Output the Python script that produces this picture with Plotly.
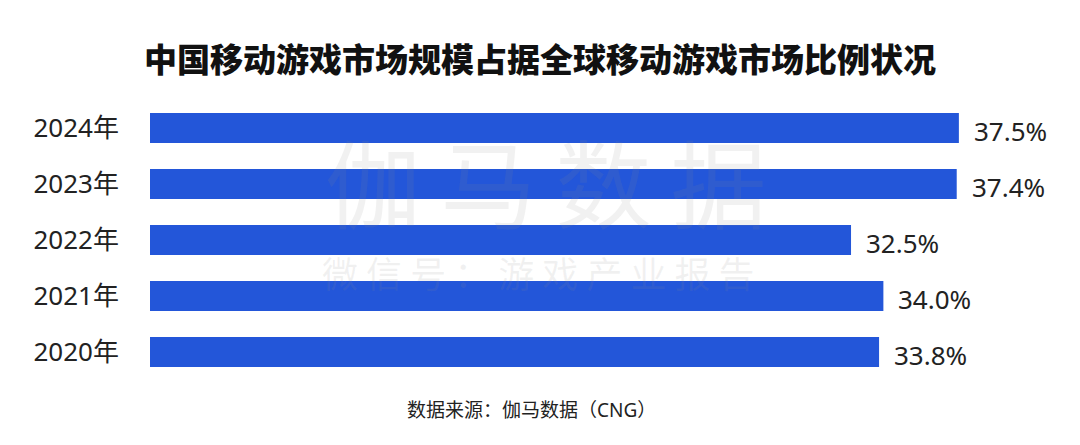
import plotly.graph_objects as go

years = ["2020年", "2021年", "2022年", "2023年", "2024年"]
shares = [33.8, 34.0, 32.5, 37.4, 37.5]
labels = ["33.8%", "34.0%", "32.5%", "37.4%", "37.5%"]

title = "中国移动游戏市场规模占据全球移动游戏市场比例状况"
source = "数据来源：伽马数据（CNG）"
watermark = "伽\u2009马\u2009数\u2009据"
watermark_sub = "微 信 号 ： 游 戏 产 业 报 告"

BLUE = "#2356D9"
FONT = "Noto Sans, Noto Sans CJK SC"

fig = go.Figure()
fig.add_trace(go.Bar(
    x=shares, y=years, orientation="h",
    marker=dict(color=BLUE, line=dict(width=0)),
    width=0.54, hoverinfo="skip",
))

for v, y, t in zip(shares, years, labels):
    fig.add_annotation(x=v, y=y, text=t, xref="x", yref="y", showarrow=False,
                       xanchor="left", yanchor="middle", xshift=13, yshift=-3,
                       font=dict(family=FONT, size=26, color="#222222"))

# watermark
fig.add_annotation(x=0.44, y=0.715, xref="paper", yref="paper", text=watermark,
                   showarrow=False, xanchor="center", yanchor="middle",
                   font=dict(family="Noto Sans CJK SC", size=96, color="rgba(140,140,140,0.12)"))
fig.add_annotation(x=0.432, y=0.385, xref="paper", yref="paper", text=watermark_sub,
                   showarrow=False, xanchor="center", yanchor="middle",
                   font=dict(family="Noto Sans CJK SC", size=36, color="rgba(140,140,140,0.12)"))

fig.add_annotation(x=0.424, y=-30/280, xref="paper", yref="paper", text=source,
                   showarrow=False, xanchor="center", yanchor="middle",
                   font=dict(family=FONT, size=19, color="#222222"))

fig.update_layout(
    width=1080, height=445,
    margin=dict(l=150, r=30, t=100, b=65, autoexpand=False),
    paper_bgcolor="white", plot_bgcolor="white",
    showlegend=False,
    title=dict(text=title, x=0.5, xanchor="center", xref="container",
               y=(445 - 60) / 445, yanchor="middle", yref="container",
               font=dict(family="Noto Sans CJK SC", size=33, color="#111111", weight=900)),
    xaxis=dict(range=[0, 900 / 21.57], visible=False, showgrid=False, zeroline=False,
               fixedrange=True, automargin=False),
    yaxis=dict(showgrid=False, zeroline=False, showline=False, ticks="",
               ticklabelstandoff=30, automargin=False,
               tickfont=dict(family=FONT, size=26, color="#222222"), fixedrange=True),
)

fig.write_html("out.html", config={"displayModeBar": False},
               post_script="document.body.style.margin='0';document.body.style.overflow='hidden';")
